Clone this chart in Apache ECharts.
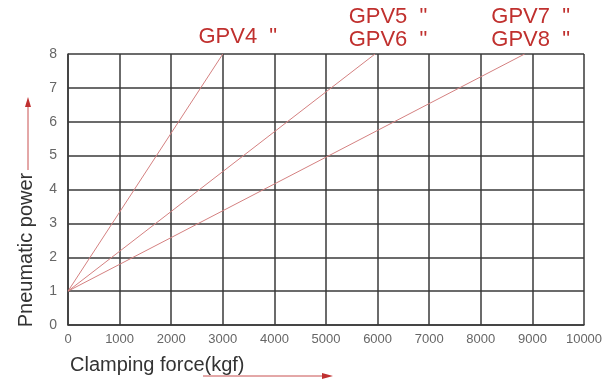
<!DOCTYPE html>
<html>
<head>
<meta charset="utf-8">
<script src="https://cdn.jsdelivr.net/npm/echarts@6/dist/echarts.min.js"></script>
<style>
  html, body { margin: 0; padding: 0; background: #fff; }
  #chart { width: 613px; height: 383px; }
</style>
</head>
<body>
<div id="chart"></div>
<script>
// 数据
var xTicks = [0, 10000, 1000]      // min, max, interval
var yTicks = [0, 8, 1]
var seriesNames = ['GPV4  "', 'GPV5  "\nGPV6  "', 'GPV7  "\nGPV8  "']
var startPoint = [0, 1]
var endForce = [3000, 5950, 8850]   // 终点 (kgf)
var endPower = [8, 8, 8]

var chart = echarts.init(document.getElementById('chart'))

var gridColor = '#3a3a3a'
var redText = '#c0302e'
var lineRed = '#d48080'
var font = 'Liberation Sans, Arial, sans-serif'

// 每条线的标签偏移
var labelOffsets = [[15, -17], [13, -26], [6, -26]]

var series = []
for (var i = 0; i < seriesNames.length; i++) {
  series.push({
    name: seriesNames[i],
    type: 'line',
    showSymbol: false,
    silent: true,
    lineStyle: { color: lineRed, width: 1 },
    data: [startPoint, [endForce[i], endPower[i]]],
    endLabel: {
      show: true,
      formatter: seriesNames[i],
      color: redText,
      fontFamily: font,
      fontSize: 22,
      lineHeight: 23,
      align: 'center',
      verticalAlign: 'middle',
      distance: 0,
      offset: labelOffsets[i]
    }
  })
}

var option = {
  animation: false,
  grid: { left: 68, right: 29, top: 54, bottom: 58 },
  xAxis: {
    type: 'value',
    min: xTicks[0], max: xTicks[1], interval: xTicks[2],
    axisLine: { lineStyle: { color: gridColor, width: 1.5 } },
    axisTick: { show: false },
    axisLabel: { color: '#666', fontSize: 13, fontFamily: font, margin: 8, formatter: function (v) { return String(v) } },
    splitLine: { show: true, lineStyle: { color: gridColor, width: 1.5 } }
  },
  yAxis: {
    type: 'value',
    min: yTicks[0], max: yTicks[1], interval: yTicks[2],
    axisLine: { show: true, lineStyle: { color: gridColor, width: 1.5 } },
    axisTick: { show: false },
    axisLabel: { color: '#666', fontSize: 14, fontFamily: font, margin: 11 },
    splitLine: { show: true, lineStyle: { color: gridColor, width: 1.5 } }
  },
  graphic: [
    // y 轴名称
    {
      type: 'text', x: 26, y: 250, rotation: Math.PI / 2,
      style: { text: 'Pneumatic power', fill: '#333', font: '20px ' + font, align: 'center', verticalAlign: 'middle' }
    },
    { type: 'line', shape: { x1: 28, y1: 170, x2: 28, y2: 104 }, style: { stroke: '#c85050', lineWidth: 1 } },
    { type: 'polygon', shape: { points: [[25, 107], [31, 107], [28, 97]] }, style: { fill: '#c03030' } },
    // x 轴名称
    {
      type: 'text', x: 70, y: 365,
      style: { text: 'Clamping force(kgf)', fill: '#333', font: '20px ' + font, align: 'left', verticalAlign: 'middle' }
    },
    { type: 'line', shape: { x1: 203, y1: 376, x2: 324, y2: 376 }, style: { stroke: '#c85050', lineWidth: 1 } },
    { type: 'polygon', shape: { points: [[322, 373], [322, 379], [333, 376]] }, style: { fill: '#c03030' } }
  ],
  series: series
}

chart.setOption(option)
</script>
</body>
</html>
